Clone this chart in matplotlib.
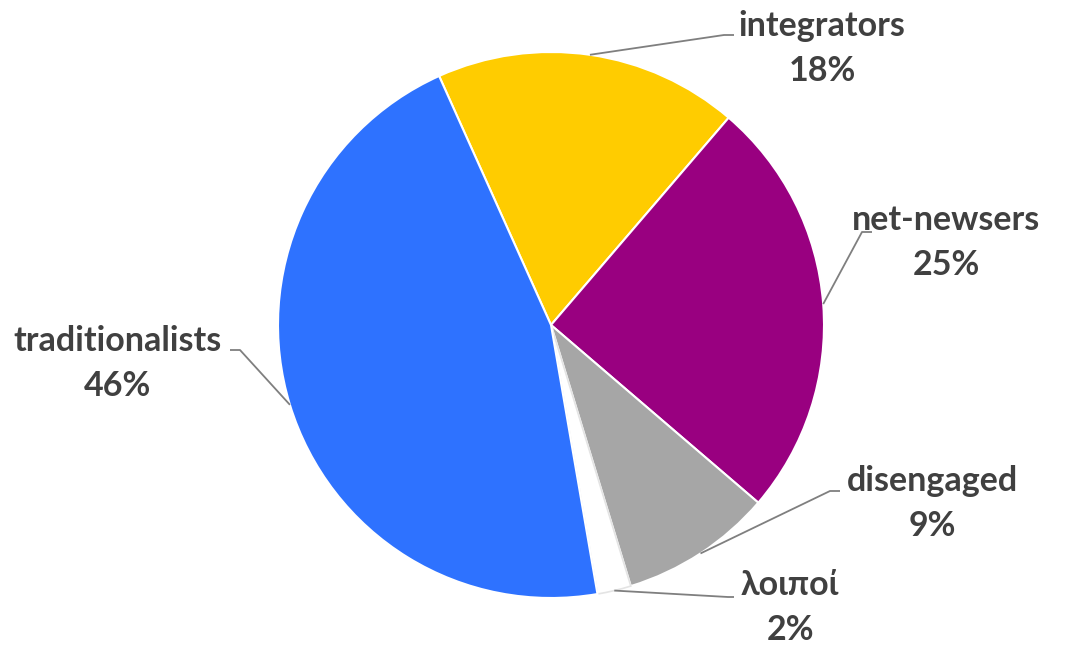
import matplotlib
matplotlib.use("Agg")
import matplotlib.pyplot as plt
import numpy as np

labels = ["integrators", "net-newsers", "disengaged", "λοιποί", "traditionalists"]
shares = [18, 25, 9, 2, 46]
colors = ["#FFCC00", "#990080", "#A6A6A6", "#FFFFFF", "#2E72FF"]

# layout (pixel coords, y measured from top)
center = (551, 325)
radius = 273
elbows = [(724, 35), (862, 232), (830, 491), (728, 597), (240, 350)]
stubs = [10, 10, 10, 6, -10]
text_pos = [(822, 26), (946, 220), (932, 481), (790, 585), (117, 341)]

W, H = 1078, 648
fig = plt.figure(figsize=(W / 100, H / 100), dpi=100)
ax = fig.add_axes([0, 0, 1, 1])

wedges, _ = ax.pie(shares, colors=colors, startangle=114.2, counterclock=False,
                   center=(center[0], H - center[1]), radius=radius, frame=True,
                   wedgeprops=dict(edgecolor="white", linewidth=1.5))
wedges[3].set_edgecolor("#E4E4E4")
wedges[3].set_linewidth(1.2)
ax.set_xlim(0, W)
ax.set_ylim(0, H)
ax.axis("off")

txt_color = "#404040"
font = ["Lato", "DejaVu Sans"]
for w, lab, val, (ex, ey), stub, (tx, ty) in zip(wedges, labels, shares, elbows, stubs, text_pos):
    mid = np.deg2rad((w.theta1 + w.theta2) / 2)
    px = center[0] + radius * np.cos(mid)
    py = H - center[1] + radius * np.sin(mid)
    ax.plot([px, ex, ex + stub], [py, H - ey, H - ey], color="#7F7F7F", lw=1.3,
            solid_capstyle="butt")
    ax.text(tx, H - ty, lab, ha="center", va="center", fontsize=24.5,
            fontweight="bold", color=txt_color, family=font)
    ax.text(tx, H - ty - 45, f"{val}%", ha="center", va="center", fontsize=24.5,
            fontweight="bold", color=txt_color, family=font)

fig.savefig("out.png", dpi=100)
